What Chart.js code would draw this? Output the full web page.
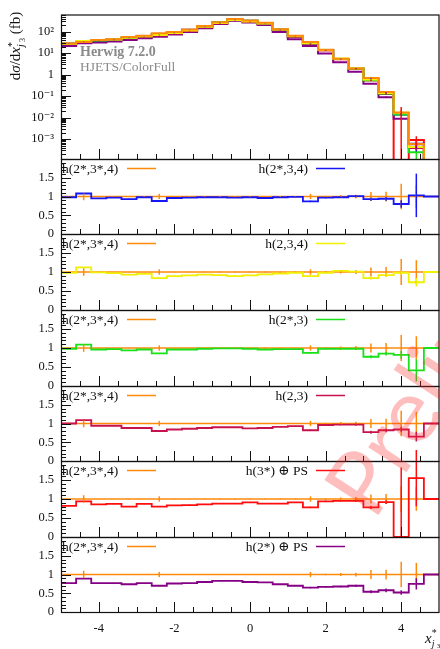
<!DOCTYPE html>
<html>
<head>
<meta charset="utf-8">
<script src="https://cdn.jsdelivr.net/npm/chart.js@4.4.1/dist/chart.umd.min.js"></script>
<style>
html, body { margin: 0; padding: 0; background: #fff; }
#wrap { position: relative; width: 440px; height: 649px; overflow: hidden; }
#wrap canvas { position: absolute; left: 0; top: 0; }
</style>
</head>
<body>
<div id="wrap"></div>
<script>
// histogram bins in x*_j3
var binEdges = [-5, -4.6, -4.2, -3.8, -3.4, -3.0, -2.6, -2.2, -1.8, -1.4, -1.0, -0.6, -0.2, 0.2, 0.6, 1.0, 1.4, 1.8, 2.2, 2.6, 3.0, 3.4, 3.8, 4.2, 4.6, 5.0];
var xTicks = [-4, -2, 0, 2, 4];
var logTicks = [1e-3, 1e-2, 1e-1, 1, 10, 100];
var logTickLabels = ['10\u207B\u00B3', '10\u207B\u00B2', '10\u207B\u00B9', '1', '10\u00B9', '10\u00B2'];
var ratioTicks = [0, 0.5, 1, 1.5];
var ratioTickLabels = ['0', '0.5', '1', '1.5'];

// reference h(2*,3*,4): dsigma/dx (fb) and its relative error
var refValues = [28, 33, 41, 45, 56, 64, 84, 97, 126, 182, 275, 390, 330, 259, 131, 64, 33, 14.4, 5.5, 1.96, 0.71, 0.155, 0.0174, 0.0006, 0];
var refErr = [0.005, 0.1, 0.005, 0.005, 0.005, 0.005, 0.07, 0.01, 0.01, 0.01, 0.01, 0.01, 0.01, 0.01, 0.01, 0.01, 0.07, 0.02, 0.04, 0.05, 0.12, 0.13, 0.34, 0.31, 0];

// ratios to the reference
var ratioBlue = [0.98, 1.08, 0.95, 0.97, 0.93, 0.98, 0.88, 0.96, 0.97, 0.98, 0.98, 0.97, 0.98, 0.96, 0.98, 0.99, 0.87, 0.97, 0.98, 1.01, 0.93, 0.94, 0.80, 1.03, 1.0];
var ratioYellow = [0.98, 1.12, 0.99, 0.97, 0.93, 0.95, 0.84, 0.89, 0.91, 0.93, 0.92, 0.89, 0.91, 0.94, 0.96, 0.98, 0.89, 0.98, 1.03, 1.01, 0.84, 0.92, 0.98, 0.73, 1.0];
var ratioGreen = [0.98, 1.09, 0.96, 0.97, 0.94, 0.96, 0.86, 0.96, 0.96, 0.98, 0.99, 0.99, 0.98, 0.96, 0.97, 0.97, 0.87, 0.98, 0.98, 0.98, 0.77, 0.85, 0.82, 0.41, 1.0];
var ratioCrimson = [1.0, 1.09, 0.94, 0.94, 0.88, 0.88, 0.80, 0.84, 0.86, 0.88, 0.90, 0.90, 0.87, 0.88, 0.91, 0.93, 0.82, 0.96, 0.97, 0.97, 0.77, 0.82, 0.84, 0.65, 1.0];
var ratioRed = [0.82, 0.94, 0.86, 0.87, 0.80, 0.87, 0.80, 0.83, 0.84, 0.86, 0.88, 0.88, 0.91, 0.88, 0.88, 0.91, 0.78, 0.94, 0.95, 0.95, 0.78, 0.92, 0, 1.55, 1.0];
var ratioPurple = [0.77, 0.89, 0.77, 0.77, 0.74, 0.77, 0.70, 0.76, 0.77, 0.80, 0.83, 0.83, 0.80, 0.79, 0.74, 0.70, 0.65, 0.67, 0.68, 0.70, 0.54, 0.58, 0.52, 0.75, 1.0];

var errBlue = [0.01, 0.01, 0.01, 0.01, 0.01, 0.01, 0.01, 0.01, 0.01, 0.01, 0.01, 0.01, 0.01, 0.01, 0.01, 0.01, 0.02, 0.02, 0.02, 0.03, 0.04, 0.05, 0.1, 0.58, 0];
var errYellow = [0.01, 0.01, 0.01, 0.01, 0.01, 0.01, 0.01, 0.01, 0.01, 0.01, 0.01, 0.01, 0.01, 0.01, 0.01, 0.01, 0.02, 0.02, 0.02, 0.03, 0.04, 0.05, 0.05, 0.11, 0];
var errGreen = [0.01, 0.01, 0.01, 0.01, 0.01, 0.01, 0.01, 0.01, 0.01, 0.01, 0.01, 0.01, 0.01, 0.01, 0.01, 0.01, 0.02, 0.02, 0.02, 0.03, 0.04, 0.05, 0.1, 0.29, 0];
var errCrimson = [0.01, 0.01, 0.01, 0.01, 0.01, 0.01, 0.01, 0.01, 0.01, 0.01, 0.01, 0.01, 0.01, 0.01, 0.01, 0.01, 0.02, 0.02, 0.02, 0.03, 0.04, 0.05, 0.06, 0.13, 0];
var errRed = [0.01, 0.01, 0.01, 0.01, 0.01, 0.01, 0.01, 0.01, 0.01, 0.01, 0.01, 0.01, 0.01, 0.01, 0.01, 0.01, 0.02, 0.02, 0.02, 0.03, 0.04, 0.05, 1.83, 0.74, 0];
var errPurple = [0.01, 0.01, 0.01, 0.01, 0.01, 0.01, 0.01, 0.01, 0.01, 0.01, 0.01, 0.01, 0.01, 0.01, 0.01, 0.01, 0.02, 0.02, 0.02, 0.03, 0.04, 0.05, 0.06, 0.15, 0];

var refName = 'h(2*,3*,4)';
var refColor = '#ff8a0a';
var series = [
  { name: 'h(2*,3,4)', color: '#1717f5', ratio: ratioBlue, err: errBlue },
  { name: 'h(2,3,4)', color: '#f0f000', ratio: ratioYellow, err: errYellow },
  { name: 'h(2*,3)', color: '#19e019', ratio: ratioGreen, err: errGreen },
  { name: 'h(2,3)', color: '#c8124e', ratio: ratioCrimson, err: errCrimson },
  { name: 'h(3*) \u2295 PS', color: '#ff0d0d', ratio: ratioRed, err: errRed },
  { name: 'h(2*) \u2295 PS', color: '#850085', ratio: ratioPurple, err: errPurple }
];
var refRatio = refValues.map(function () { return 1; });

var SERIF = "'Liberation Serif', 'DejaVu Serif', serif";
Chart.defaults.font.family = SERIF;
Chart.defaults.font.size = 12;
Chart.defaults.color = '#111';

var W = 440, H = 649;
var wrap = document.getElementById('wrap');
function newCanvas() {
  var c = document.createElement('canvas');
  c.width = W; c.height = H;
  c.style.width = W + 'px'; c.style.height = H + 'px';
  wrap.appendChild(c);
  return c;
}

// step histogram points: one per left bin edge plus the closing edge
function stepPoints(vals) {
  var pts = vals.map(function (v, i) { return { x: binEdges[i], y: v }; });
  pts.push({ x: binEdges[binEdges.length - 1], y: vals[vals.length - 1] });
  return pts;
}

function histDataset(vals, color, width) {
  return {
    data: stepPoints(vals), borderColor: color, borderWidth: width,
    stepped: 'before', pointRadius: 0, fill: false, tension: 0
  };
}

// draw text made of pieces (sup/sub); piece.back = start at the previous piece's x
function richText(ctx, pieces, x, y, measureOnly) {
  var cx = x, prevX = x, maxX = x;
  pieces.forEach(function (p) {
    ctx.font = p.font;
    var start = p.back ? prevX : cx;
    var w = ctx.measureText(p.t).width;
    if (!measureOnly) ctx.fillText(p.t, start, y + (p.dy || 0));
    prevX = start;
    cx = start + w;
    if (cx > maxX) maxX = cx;
    if (p.back) cx = maxX;
  });
  return maxX - x;
}

function line(ctx, x1, y1, x2, y2) {
  ctx.beginPath(); ctx.moveTo(x1, y1); ctx.lineTo(x2, y2); ctx.stroke();
}

var decoPlugin = {
  id: 'deco',
  afterDatasetsDraw: function (chart) {
    var o = chart.options.plugins.deco;
    var ctx = chart.ctx, xs = chart.scales.x, ys = chart.scales.y, a = chart.chartArea;
    ctx.save();
    ctx.beginPath(); ctx.rect(0, 0, W, a.bottom); ctx.clip();
    o.bars.forEach(function (b) {
      ctx.strokeStyle = b.color; ctx.lineWidth = 1.5;
      for (var i = 0; i < b.err.length; i++) {
        if (!b.err[i] || !b.scale[i]) continue;
        var xc = xs.getPixelForValue((binEdges[i] + binEdges[i + 1]) / 2);
        var lo = b.scale[i] * (b.ratio[i] - b.err[i]);
        var hi = b.scale[i] * (b.ratio[i] + b.err[i]);
        var yLo = lo > ys.min ? ys.getPixelForValue(lo) : a.bottom;
        var yHi = ys.getPixelForValue(hi);
        line(ctx, xc, yLo, xc, yHi);
      }
    });
    ctx.restore();
  },
  afterDraw: function (chart) {
    var o = chart.options.plugins.deco;
    var ctx = chart.ctx, xs = chart.scales.x, ys = chart.scales.y, a = chart.chartArea;
    ctx.save();
    ctx.strokeStyle = '#111'; ctx.lineWidth = 1;
    // x ticks on the bottom edge, pointing in
    for (var k = -9; k <= 9; k++) {
      var v = k / 2, px = Math.round(xs.getPixelForValue(v)) + 0.5;
      var len = xTicks.indexOf(v) >= 0 ? 10 : 5;
      line(ctx, px, a.bottom, px, a.bottom - len);
    }
    // y ticks on the left edge
    if (o.log) {
      for (var d = -4; d <= 2; d++) {
        for (var m = 1; m <= 9; m++) {
          var val = m * Math.pow(10, d);
          if (val < ys.min || val > ys.max) continue;
          var py = Math.round(ys.getPixelForValue(val)) + 0.5;
          line(ctx, a.left, py, a.left + (m === 1 ? 10 : 5), py);
        }
      }
    } else {
      for (var j = 1; j < 20; j++) {
        var rv = j / 10, ry = Math.round(ys.getPixelForValue(rv)) + 0.5;
        line(ctx, a.left, ry, a.left + (j % 5 === 0 ? 10 : 5), ry);
      }
    }
    // frame
    ctx.lineWidth = 1.2;
    ctx.strokeRect(a.left + 0.5, a.top + 0.5, a.right - a.left - 0.5, a.bottom - a.top);

    ctx.textBaseline = 'alphabetic';
    // legend in ratio panels
    if (o.legend) {
      var by = a.top + 14;
      ctx.fillStyle = '#111';
      ctx.font = '13.5px ' + SERIF;
      ctx.textAlign = 'left';
      ctx.fillText(refName, a.left + 1, by);
      ctx.strokeStyle = refColor; ctx.lineWidth = 1.5;
      line(ctx, 127, by - 4.5, 156, by - 4.5);
      ctx.textAlign = 'right';
      ctx.fillText(o.legend.name, 308, by);
      ctx.strokeStyle = o.legend.color;
      line(ctx, 316, by - 4.5, 345, by - 4.5);
    }
    // generator label and y title in the main panel
    if (o.log) {
      ctx.textAlign = 'left';
      ctx.fillStyle = '#8a8a8a';
      ctx.font = 'bold 14px ' + SERIF;
      ctx.fillText('Herwig 7.2.0', 80, 56);
      ctx.font = '13.5px ' + SERIF;
      ctx.fillText('HJETS/ColorFull', 80, 71);

      ctx.fillStyle = '#111';
      var big = '15px ' + SERIF, ital = 'italic 15px ' + SERIF, small = '10px ' + SERIF, smallI = 'italic 10px ' + SERIF;
      var pieces = [
        { t: 'd', font: big }, { t: '\u03C3', font: ital }, { t: '/d', font: big }, { t: 'x', font: ital },
        { t: '*', font: small, dy: -5 }, { t: 'j', font: smallI, dy: 4, back: true }, { t: '3', font: '8px ' + SERIF, dy: 5 },
        { t: ' (fb)', font: big }
      ];
      ctx.save();
      ctx.translate(20, 46);
      ctx.rotate(-Math.PI / 2);
      var tw = richText(ctx, pieces, 0, 0, true);
      richText(ctx, pieces, -tw / 2, 0, false);
      ctx.restore();
    }
    // x title and watermark on the last panel
    if (o.last) {
      ctx.fillStyle = '#111';
      ctx.textAlign = 'left';
      richText(ctx, [
        { t: 'x', font: 'italic 15px ' + SERIF },
        { t: '*', font: '10px ' + SERIF, dy: -7 },
        { t: 'j', font: 'italic 10px ' + SERIF, dy: 4, back: true },
        { t: '3', font: '7px ' + SERIF, dy: 5 }
      ], 425, 643, false);

      ctx.save();
      ctx.translate(374, 522);
      ctx.rotate(-57 * Math.PI / 180);
      ctx.fillStyle = 'rgba(255, 40, 40, 0.3)';
      ctx.font = '400 90px Lato, sans-serif';
      ctx.textAlign = 'left';
      ctx.fillText('Preliminary', 0, 0);
      ctx.restore();
    }
    ctx.restore();
  }
};

function baseOptions(top, bottom, isLast) {
  return {
    responsive: false, animation: false, events: [], devicePixelRatio: 1,
    layout: { padding: { left: 0, right: 1, top: top, bottom: isLast ? 0 : H - bottom } },
    plugins: { legend: { display: false }, tooltip: { enabled: false } },
    scales: {
      x: {
        type: 'linear', min: -5, max: 5, display: isLast,
        grid: { display: false, drawTicks: false }, border: { display: false },
        afterFit: function (s) { if (s.options.display) s.height = H - bottom; },
        afterBuildTicks: function (s) { s.ticks = xTicks.map(function (v) { return { value: v }; }); },
        ticks: { padding: 9, autoSkip: false, maxRotation: 0, font: { size: 12.5 }, callback: function (v) { return String(v); } }
      },
      y: {
        grid: { display: false, drawTicks: false }, border: { display: false },
        afterFit: function (s) { s.width = 61; },
        ticks: { padding: 7, autoSkip: false, font: { size: 12.5 } }
      }
    }
  };
}

// main panel
var mainOrder = [{ color: refColor, ratio: refRatio, err: refErr }, series[1], series[2], series[0], series[3], series[5], series[4]];
var mainOpts = baseOptions(7, 159, false);
mainOpts.scales.y.type = 'logarithmic';
mainOpts.scales.y.min = 1.2e-4;
mainOpts.scales.y.max = 630;
mainOpts.scales.y.afterBuildTicks = function (s) { s.ticks = logTicks.map(function (v) { return { value: v }; }); };
mainOpts.scales.y.ticks.callback = function (v, i) { return logTickLabels[i]; };
mainOpts.plugins.deco = {
  log: true,
  bars: mainOrder.map(function (s) { return { color: s.color, ratio: s.ratio, err: s.err, scale: refValues }; })
};
new Chart(newCanvas(), {
  type: 'line',
  data: {
    datasets: mainOrder.map(function (s) {
      var vals = refValues.map(function (r, i) { var v = r * s.ratio[i]; return v > 0 ? v : 1e-9; });
      return histDataset(vals, s.color, 2);
    })
  },
  options: mainOpts,
  plugins: [decoPlugin]
});

// ratio panels
var panelTops = [159, 234, 310, 386, 461, 537];
var panelBottoms = [234, 310, 386, 461, 537, 612];
series.forEach(function (s, k) {
  var isLast = k === series.length - 1;
  var opts = baseOptions(panelTops[k], panelBottoms[k], isLast);
  opts.scales.y.type = 'linear';
  opts.scales.y.min = 0;
  opts.scales.y.max = 2;
  opts.scales.y.afterBuildTicks = function (sc) { sc.ticks = ratioTicks.map(function (v) { return { value: v }; }); };
  opts.scales.y.ticks.callback = function (v, i) { return ratioTickLabels[i]; };
  opts.plugins.deco = {
    log: false, last: isLast,
    legend: { name: s.name, color: s.color },
    bars: [
      { color: refColor, ratio: refRatio, err: refErr, scale: refRatio },
      { color: s.color, ratio: s.ratio, err: s.err, scale: refRatio }
    ]
  };
  new Chart(newCanvas(), {
    type: 'line',
    data: { datasets: [histDataset(s.ratio, s.color, 1.8), histDataset(refRatio, refColor, 1.6)] },
    options: opts,
    plugins: [decoPlugin]
  });
});
</script>
</body>
</html>
